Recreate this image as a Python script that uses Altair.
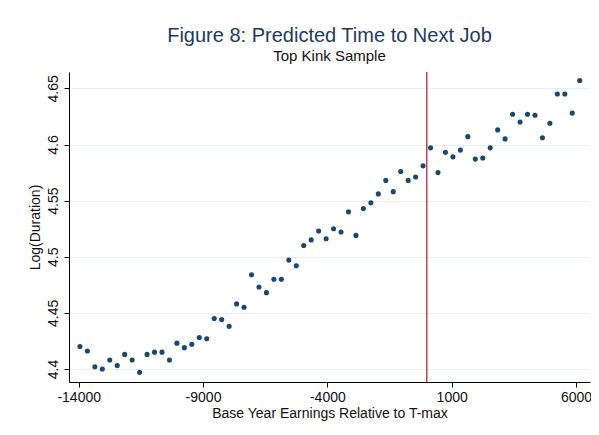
import altair as alt
import pandas as pd

earn = [-13950, -13650, -13350, -13050, -12750, -12450, -12150, -11850, -11550, -11250,
        -10950, -10650, -10350, -10050, -9750, -9450, -9150, -8850, -8550, -8250,
        -7950, -7650, -7350, -7050, -6750, -6450, -6150, -5850, -5550, -5250,
        -4950, -4650, -4350, -4050, -3750, -3450, -3150, -2850, -2550, -2250,
        -1950, -1650, -1350, -1050, -750, -450, -150, 150, 450, 750,
        1050, 1350, 1650, 1950, 2250, 2550, 2850, 3150, 3450, 3750,
        4050, 4350, 4650, 4950, 5250, 5550, 5850, 6150]
logdur = [4.420, 4.416, 4.402, 4.400, 4.408, 4.403, 4.413, 4.408, 4.397, 4.413,
          4.415, 4.415, 4.408, 4.423, 4.419, 4.422, 4.428, 4.427, 4.445, 4.444,
          4.438, 4.458, 4.455, 4.484, 4.473, 4.468, 4.480, 4.480, 4.497, 4.492,
          4.510, 4.515, 4.523, 4.516, 4.525, 4.522, 4.540, 4.519, 4.543, 4.548,
          4.556, 4.568, 4.558, 4.576, 4.568, 4.571, 4.581, 4.597, 4.575, 4.593,
          4.589, 4.595, 4.607, 4.587, 4.588, 4.597, 4.613, 4.605, 4.627, 4.620,
          4.627, 4.626, 4.606, 4.619, 4.645, 4.645, 4.628, 4.657]
x_ticks = [-14000, -9000, -4000, 1000, 6000]
y_ticks = [4.4, 4.45, 4.5, 4.55, 4.6, 4.65]
kink = [0]

df = pd.DataFrame({"earn": earn, "logdur": logdur})
kdf = pd.DataFrame({"k": kink})

FONT = "Liberation Sans"
xscale = alt.Scale(domain=[-14390, 6563], nice=False, zero=False)
yscale = alt.Scale(domain=[4.3884, 4.6646], nice=False, zero=False)

points = alt.Chart(df).mark_circle(size=26, color="#1a476f", opacity=1).encode(
    x=alt.X("earn:Q", scale=xscale,
            axis=alt.Axis(values=x_ticks, title="Base Year Earnings Relative to T-max",
                          labelExpr="'' + datum.value", grid=False,
                          labelPadding=3, titlePadding=2)),
    y=alt.Y("logdur:Q", scale=yscale,
            axis=alt.Axis(values=y_ticks, title="Log(Duration)", format=".2~f",
                          labelAngle=270, grid=True, labelPadding=4, titlePadding=4)),
)

rule = alt.Chart(kdf).mark_rule(color="#a8182e", strokeWidth=1.2).encode(
    x=alt.X("k:Q", scale=xscale)
)

chart = alt.layer(points, rule).properties(
    width=521, height=310,
    title=alt.TitleParams(
        text="Figure 8: Predicted Time to Next Job",
        subtitle="Top Kink Sample",
        anchor="middle", font=FONT, fontSize=20, fontWeight="normal",
        color="#1e3a5f", subtitleFont=FONT, subtitleFontSize=15,
        subtitleColor="#111111", subtitlePadding=3, offset=7,
    ),
    autosize=alt.AutoSizeParams(type="none"),
    padding={"left": 61, "top": 64, "right": 1, "bottom": 45},
).configure(background="white").configure_view(stroke=None).configure_axis(
    labelFont=FONT, titleFont=FONT, labelFontSize=14, titleFontSize=14,
    titleFontWeight="normal", labelColor="#111111", titleColor="#111111",
    domainColor="#000000", tickColor="#000000", tickSize=5,
    gridColor="#e6eff1", gridWidth=1.2,
)

chart.save("out.html", embed_options={"renderer": "svg", "actions": False})
